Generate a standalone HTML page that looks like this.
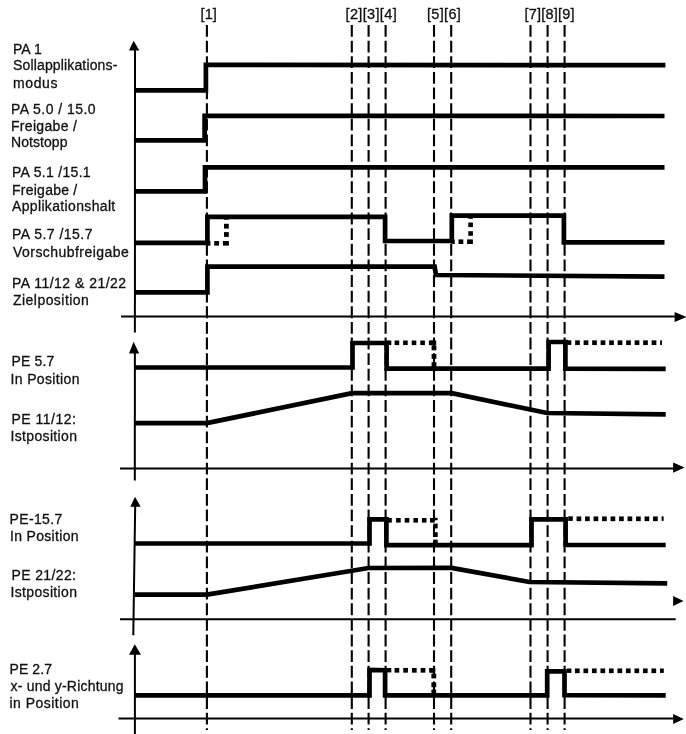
<!DOCTYPE html>
<html><head><meta charset="utf-8"><style>
html,body{margin:0;padding:0;background:#fff;}
svg{display:block;will-change:transform;}
text{font-family:"Liberation Sans",sans-serif;font-size:14px;fill:#111;stroke:#111;stroke-width:0.3px;}
text.n{font-size:14.5px;}
</style></head><body>
<svg width="686" height="734" viewBox="0 0 686 734">
<rect width="686" height="734" fill="#fff"/>
<line x1="206.9" y1="25.0" x2="206.9" y2="730" stroke="#000" stroke-width="2.1" stroke-dasharray="11.83 3.8"/>
<line x1="351.8" y1="25.0" x2="351.8" y2="730" stroke="#000" stroke-width="2.1" stroke-dasharray="11.83 3.8"/>
<line x1="368.6" y1="25.0" x2="368.6" y2="730" stroke="#000" stroke-width="2.1" stroke-dasharray="11.83 3.8"/>
<line x1="385.6" y1="25.0" x2="385.6" y2="730" stroke="#000" stroke-width="2.1" stroke-dasharray="11.83 3.8"/>
<line x1="434.0" y1="25.0" x2="434.0" y2="730" stroke="#000" stroke-width="2.1" stroke-dasharray="11.83 3.8"/>
<line x1="451.2" y1="25.0" x2="451.2" y2="730" stroke="#000" stroke-width="2.1" stroke-dasharray="11.83 3.8"/>
<line x1="530.5" y1="25.0" x2="530.5" y2="730" stroke="#000" stroke-width="2.1" stroke-dasharray="11.83 3.8"/>
<line x1="547.6" y1="25.0" x2="547.6" y2="730" stroke="#000" stroke-width="2.1" stroke-dasharray="11.83 3.8"/>
<line x1="564.6" y1="25.0" x2="564.6" y2="730" stroke="#000" stroke-width="2.1" stroke-dasharray="11.83 3.8"/>
<line x1="135.0" y1="49.5" x2="134.9" y2="332.4" stroke="#000" stroke-width="2.0"/>
<polygon points="129.0,50.6 133.6,40.7 139.3,50.6" fill="#000"/>
<line x1="134.9" y1="352.5" x2="134.8" y2="480.5" stroke="#000" stroke-width="2.0"/>
<polygon points="129.0,353.5 133.6,341.8 139.2,353.5" fill="#000"/>
<line x1="135.2" y1="505.5" x2="133.3" y2="635.3" stroke="#000" stroke-width="2.0"/>
<polygon points="130.4,506.7 135.0,496.7 140.7,506.7" fill="#000"/>
<line x1="134.9" y1="653.5" x2="134.9" y2="734" stroke="#000" stroke-width="2.0"/>
<polygon points="129.0,654.8 134.8,644.3 141.0,654.8" fill="#000"/>
<line x1="121.0" y1="316.5" x2="675.0" y2="316.5" stroke="#000" stroke-width="2.0"/>
<polygon points="674.6,312.1 686.5,317.0 674.6,321.9" fill="#000"/>
<line x1="120.0" y1="468.5" x2="674.0" y2="468.5" stroke="#000" stroke-width="2.0"/>
<polygon points="673.1,462.5 684.6,467.6 673.1,472.7" fill="#000"/>
<line x1="120.0" y1="619.2" x2="675.7" y2="619.2" stroke="#000" stroke-width="2.0"/>
<polygon points="673.1,596.1 683.5,601.0 673.1,606.0" fill="#000"/>
<line x1="118.5" y1="718.5" x2="674.0" y2="718.5" stroke="#000" stroke-width="2.0"/>
<polygon points="673.1,714.0 683.8,719.0 673.1,724.0" fill="#000"/>
<polyline points="135.00,90.30 205.90,90.30 205.90,64.90 665.40,65.10" fill="none" stroke="#000" stroke-width="4.7" stroke-linejoin="miter" stroke-linecap="butt" />
<polyline points="135.00,140.40 204.60,140.40 204.60,115.80 664.50,116.00" fill="none" stroke="#000" stroke-width="4.7" stroke-linejoin="miter" stroke-linecap="butt" />
<polyline points="135.00,191.30 205.00,191.30 205.00,167.30 664.50,167.30" fill="none" stroke="#000" stroke-width="4.7" stroke-linejoin="miter" stroke-linecap="butt" />
<polyline points="135.00,242.80 207.40,242.80 207.40,216.90 385.10,216.90 385.10,241.00 451.80,241.00 451.80,215.70 563.90,215.70 563.90,242.40 664.50,242.40" fill="none" stroke="#000" stroke-width="4.7" stroke-linejoin="miter" stroke-linecap="butt" />
<rect x="207.20" y="241.00" width="3.2" height="4.6" fill="#000"/><rect x="214.20" y="241.00" width="4.8" height="4.6" fill="#000"/><rect x="222.90" y="241.00" width="6.0" height="4.6" fill="#000"/><rect x="224.00" y="232.10" width="4.8" height="4.8" fill="#000"/><rect x="224.00" y="223.80" width="4.8" height="4.8" fill="#000"/><rect x="224.00" y="216.70" width="4.8" height="3.0" fill="#000"/>
<rect x="451.70" y="239.40" width="3.0" height="4.6" fill="#000"/><rect x="458.50" y="239.40" width="4.8" height="4.6" fill="#000"/><rect x="467.10" y="239.40" width="5.8" height="4.6" fill="#000"/><rect x="468.30" y="231.20" width="4.6" height="4.6" fill="#000"/><rect x="468.30" y="222.50" width="4.6" height="4.6" fill="#000"/><rect x="468.30" y="216.40" width="4.6" height="2.4" fill="#000"/>
<polyline points="135.00,292.40 207.40,292.40 207.40,266.60 434.60,266.60 436.00,275.00 664.50,276.60" fill="none" stroke="#000" stroke-width="4.7" stroke-linejoin="miter" stroke-linecap="butt" />
<polyline points="135.00,367.50 352.50,367.50 352.50,343.00 386.60,343.00 386.60,368.60 548.60,368.60 548.60,342.00 565.40,342.00 565.40,368.60 665.70,368.80" fill="none" stroke="#000" stroke-width="4.7" stroke-linejoin="miter" stroke-linecap="butt" />
<rect x="386.70" y="340.50" width="4.6" height="4.6" fill="#000"/><rect x="394.60" y="340.50" width="4.6" height="4.6" fill="#000"/><rect x="403.10" y="340.50" width="4.6" height="4.6" fill="#000"/><rect x="411.70" y="340.50" width="4.6" height="4.6" fill="#000"/><rect x="420.30" y="340.50" width="4.6" height="4.6" fill="#000"/><rect x="428.90" y="340.50" width="4.6" height="4.6" fill="#000"/><rect x="431.60" y="345.50" width="4.8" height="4.8" fill="#000"/><rect x="431.60" y="354.00" width="4.8" height="4.8" fill="#000"/><rect x="431.60" y="362.20" width="4.8" height="4.8" fill="#000"/><rect x="430.60" y="340.50" width="5.6" height="4.6" fill="#000"/>
<rect x="566.70" y="340.30" width="4.6" height="4.6" fill="#000"/><rect x="575.15" y="340.35" width="4.7" height="4.7" fill="#000"/><rect x="583.65" y="340.35" width="4.7" height="4.7" fill="#000"/><rect x="592.15" y="340.35" width="4.7" height="4.7" fill="#000"/><rect x="600.65" y="340.35" width="4.7" height="4.7" fill="#000"/><rect x="609.15" y="340.35" width="4.7" height="4.7" fill="#000"/><rect x="617.65" y="340.35" width="4.7" height="4.7" fill="#000"/><rect x="626.15" y="340.35" width="4.7" height="4.7" fill="#000"/><rect x="634.65" y="340.35" width="4.7" height="4.7" fill="#000"/><rect x="643.15" y="340.35" width="4.7" height="4.7" fill="#000"/><rect x="651.65" y="340.35" width="4.7" height="4.7" fill="#000"/><rect x="660.10" y="340.35" width="1.8" height="4.7" fill="#000"/>
<polyline points="135.00,423.10 206.90,423.10 352.00,393.20 451.80,393.20 547.00,413.00 665.70,414.40" fill="none" stroke="#000" stroke-width="4.7" stroke-linejoin="miter" stroke-linecap="butt" />
<polyline points="135.00,543.50 369.50,543.50 369.50,519.40 386.40,519.40 386.40,545.10 531.50,545.10 531.50,519.40 565.60,519.40 565.60,545.00 665.70,545.00" fill="none" stroke="#000" stroke-width="4.7" stroke-linejoin="miter" stroke-linecap="butt" />
<rect x="387.20" y="518.00" width="4.6" height="4.6" fill="#000"/><rect x="396.10" y="518.00" width="4.6" height="4.6" fill="#000"/><rect x="404.70" y="518.00" width="4.6" height="4.6" fill="#000"/><rect x="413.40" y="518.00" width="4.6" height="4.6" fill="#000"/><rect x="421.90" y="518.00" width="4.6" height="4.6" fill="#000"/><rect x="430.00" y="518.00" width="4.6" height="4.6" fill="#000"/><rect x="433.30" y="523.60" width="4.4" height="4.8" fill="#000"/><rect x="433.30" y="532.20" width="4.4" height="4.8" fill="#000"/><rect x="433.30" y="539.60" width="4.4" height="4.8" fill="#000"/><rect x="434.00" y="517.80" width="3.6" height="2.4" fill="#000"/>
<rect x="568.20" y="516.30" width="4.6" height="4.6" fill="#000"/><rect x="576.55" y="516.45" width="4.7" height="4.7" fill="#000"/><rect x="585.05" y="516.45" width="4.7" height="4.7" fill="#000"/><rect x="593.55" y="516.45" width="4.7" height="4.7" fill="#000"/><rect x="602.05" y="516.45" width="4.7" height="4.7" fill="#000"/><rect x="610.55" y="516.45" width="4.7" height="4.7" fill="#000"/><rect x="619.05" y="516.45" width="4.7" height="4.7" fill="#000"/><rect x="627.55" y="516.45" width="4.7" height="4.7" fill="#000"/><rect x="636.05" y="516.45" width="4.7" height="4.7" fill="#000"/><rect x="644.55" y="516.45" width="4.7" height="4.7" fill="#000"/><rect x="653.05" y="516.45" width="4.7" height="4.7" fill="#000"/><rect x="661.60" y="516.30" width="2.0" height="4.6" fill="#000"/>
<polyline points="135.00,594.60 206.90,594.60 368.50,568.00 451.50,567.90 529.50,582.00 667.20,583.30" fill="none" stroke="#000" stroke-width="4.7" stroke-linejoin="miter" stroke-linecap="butt" />
<polyline points="135.00,695.30 369.50,695.30 369.50,670.00 385.10,670.20 385.10,695.30 547.20,695.30 547.20,671.40 564.50,671.40 564.50,695.20 665.70,695.30" fill="none" stroke="#000" stroke-width="4.7" stroke-linejoin="miter" stroke-linecap="butt" />
<rect x="386.70" y="668.00" width="4.6" height="4.4" fill="#000"/><rect x="394.55" y="667.95" width="4.7" height="4.7" fill="#000"/><rect x="403.25" y="667.95" width="4.7" height="4.7" fill="#000"/><rect x="411.95" y="667.95" width="4.7" height="4.7" fill="#000"/><rect x="420.65" y="667.95" width="4.7" height="4.7" fill="#000"/><rect x="429.25" y="667.95" width="4.7" height="4.7" fill="#000"/><rect x="431.40" y="673.60" width="4.8" height="4.8" fill="#000"/><rect x="431.40" y="682.40" width="4.8" height="4.8" fill="#000"/><rect x="431.40" y="689.60" width="4.8" height="4.8" fill="#000"/><rect x="429.50" y="668.00" width="5.8" height="4.4" fill="#000"/>
<rect x="567.00" y="668.50" width="4.4" height="4.4" fill="#000"/><rect x="574.95" y="668.45" width="4.7" height="4.7" fill="#000"/><rect x="583.45" y="668.45" width="4.7" height="4.7" fill="#000"/><rect x="591.95" y="668.45" width="4.7" height="4.7" fill="#000"/><rect x="600.45" y="668.45" width="4.7" height="4.7" fill="#000"/><rect x="608.95" y="668.45" width="4.7" height="4.7" fill="#000"/><rect x="617.45" y="668.45" width="4.7" height="4.7" fill="#000"/><rect x="625.95" y="668.45" width="4.7" height="4.7" fill="#000"/><rect x="634.45" y="668.45" width="4.7" height="4.7" fill="#000"/><rect x="642.95" y="668.45" width="4.7" height="4.7" fill="#000"/><rect x="651.45" y="668.45" width="4.7" height="4.7" fill="#000"/><rect x="660.00" y="668.50" width="3.8" height="4.4" fill="#000"/>
<text x="13.00" y="53.80" textLength="28.75" lengthAdjust="spacing">PA 1</text>
<text x="13.00" y="70.00" textLength="104.35" lengthAdjust="spacing">Sollapplikations-</text>
<text x="13.00" y="87.90" textLength="44.43" lengthAdjust="spacing">modus</text>
<text x="11.00" y="114.20" textLength="84.54" lengthAdjust="spacing">PA 5.0 / 15.0</text>
<text x="11.00" y="130.80" textLength="65.85" lengthAdjust="spacing">Freigabe /</text>
<text x="11.00" y="147.40" textLength="56.45" lengthAdjust="spacing">Notstopp</text>
<text x="12.00" y="177.00" textLength="78.65" lengthAdjust="spacing">PA 5.1 /15.1</text>
<text x="12.00" y="194.80" textLength="65.25" lengthAdjust="spacing">Freigabe /</text>
<text x="12.00" y="211.10" textLength="103.26" lengthAdjust="spacing">Applikationshalt</text>
<text x="12.00" y="239.40" textLength="80.45" lengthAdjust="spacing">PA 5.7 /15.7</text>
<text x="13.00" y="257.40" textLength="115.77" lengthAdjust="spacing">Vorschubfreigabe</text>
<text x="12.00" y="287.70" textLength="114.11" lengthAdjust="spacing">PA 11/12 &amp; 21/22</text>
<text x="13.00" y="305.30" textLength="75.83" lengthAdjust="spacing">Zielposition</text>
<text x="11.50" y="366.30" textLength="42.83" lengthAdjust="spacing">PE 5.7</text>
<text x="10.50" y="383.70" textLength="68.97" lengthAdjust="spacing">In Position</text>
<text x="11.50" y="424.40" textLength="64.45" lengthAdjust="spacing">PE 11/12:</text>
<text x="10.50" y="441.40" textLength="66.45" lengthAdjust="spacing">Istposition</text>
<text x="9.50" y="523.70" textLength="52.79" lengthAdjust="spacing">PE-15.7</text>
<text x="10.00" y="541.40" textLength="68.58" lengthAdjust="spacing">In Position</text>
<text x="11.50" y="579.90" textLength="64.50" lengthAdjust="spacing">PE 21/22:</text>
<text x="10.50" y="596.70" textLength="66.45" lengthAdjust="spacing">Istposition</text>
<text x="9.50" y="673.90" textLength="42.43" lengthAdjust="spacing">PE 2.7</text>
<text x="10.50" y="691.30" textLength="113.12" lengthAdjust="spacing">x- und y-Richtung</text>
<text x="9.50" y="708.40" textLength="69.39" lengthAdjust="spacing">in Position</text>
<text x="200.50" y="18.90" textLength="16.33" lengthAdjust="spacing" class="n">[1]</text>
<text x="345.50" y="18.90" textLength="51.18" lengthAdjust="spacing" class="n">[2][3][4]</text>
<text x="427.00" y="18.90" textLength="33.85" lengthAdjust="spacing" class="n">[5][6]</text>
<text x="524.50" y="18.90" textLength="49.97" lengthAdjust="spacing" class="n">[7][8][9]</text>
</svg>
</body></html>
